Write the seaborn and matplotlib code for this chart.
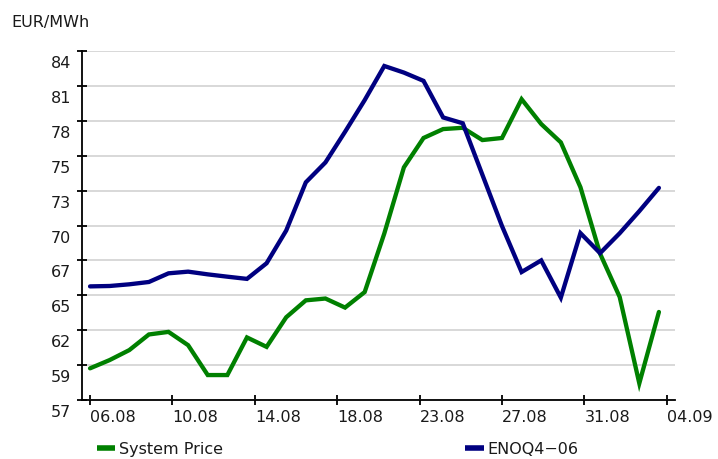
import numpy as np
import pandas as pd
import matplotlib
matplotlib.use("Agg")
import matplotlib.pyplot as plt
import matplotlib.transforms as mtransforms
import seaborn as sns

# ---- data ----
days = ["06.08", "07.08", "08.08", "09.08", "10.08", "11.08", "12.08", "13.08",
        "14.08", "15.08", "16.08", "17.08", "18.08", "19.08", "20.08", "21.08",
        "22.08", "23.08", "24.08", "25.08", "26.08", "27.08", "28.08", "29.08",
        "30.08", "31.08", "01.09", "02.09", "03.09", "04.09"]
system_price = [59.45, 60.09, 60.86, 62.07, 62.27, 61.24, 58.93, 58.93,
                61.84, 61.11, 63.40, 64.71, 64.85, 64.15, 65.35, 69.88,
                75.00, 77.27, 77.96, 78.06, 77.11, 77.27, 80.27, 78.35,
                76.93, 73.46, 68.32, 64.97, 58.29, 63.81]
enoq4_06 = [65.79, 65.82, 65.95, 66.13, 66.80, 66.93, 66.72, 66.54,
            66.37, 67.58, 70.11, 73.84, 75.38, 77.75, 80.20, 82.84,
            82.33, 81.69, 78.86, 78.41, 74.43, 70.46, 66.90, 67.80,
            64.92, 69.91, 68.36, 69.90, 71.61, 73.41]
series_names = ["System Price", "ENOQ4\u221206"]
series_colors = ["#008000", "#000080"]
xtick_labels = ["06.08", "10.08", "14.08", "18.08", "23.08", "27.08", "31.08", "04.09"]
y_min, y_max, y_step = 57.0, 84.0, 2.7
unit_label = "EUR/MWh"

# ---- build long-form table ----
x_idx = np.arange(len(days))
df = pd.concat([
    pd.DataFrame({"x": x_idx, "value": system_price, "series": series_names[0]}),
    pd.DataFrame({"x": x_idx, "value": enoq4_06, "series": series_names[1]}),
], ignore_index=True)

sns.set_theme(style="white")
plt.rcParams["font.family"] = ["DejaVu Sans"]
FS = 11.5

fig = plt.figure(figsize=(7.18, 4.59), dpi=100)
ax = fig.add_axes([82 / 718, 1 - 400 / 459, (675 - 82) / 718, (400 - 51) / 459])

sns.lineplot(data=df, x="x", y="value", hue="series", hue_order=series_names,
             palette=dict(zip(series_names, series_colors)), linewidth=3.1,
             ax=ax, legend=True)
for ln in ax.get_lines():
    ln.set_solid_joinstyle("miter")

# axes limits / ticks
ax.set_xlim(-0.41, 29.82)
ax.set_ylim(y_min, y_max)
yt = y_min + y_step * np.arange(11)
ax.set_yticks(yt)
ax.set_yticklabels([str(int(np.floor(v + 1e-9))) for v in yt])
xt = np.arange(len(xtick_labels)) * 4.2
ax.set_xticks(xt)
ax.set_xticklabels(xtick_labels, ha="left")

ax.set_xlabel("")
ax.set_ylabel("")
ax.yaxis.grid(True, color="#d6d6d6", linewidth=1.3)
ax.xaxis.grid(False)
ax.set_axisbelow(True)
for s in ["top", "right"]:
    ax.spines[s].set_visible(False)
for s in ["left", "bottom"]:
    ax.spines[s].set_color("black")
    ax.spines[s].set_linewidth(1.3)
ax.tick_params(axis="both", which="major", direction="inout", length=7,
               width=1.3, color="black", labelsize=FS, labelcolor="#1a1a1a",
               bottom=True, left=True)
ax.tick_params(axis="y", pad=4.5)
ax.tick_params(axis="x", pad=4)

# shift y labels down (as in the reference)
offset = mtransforms.ScaledTranslation(0, -11 / 100, fig.dpi_scale_trans)
for lab in ax.yaxis.get_majorticklabels():
    lab.set_transform(lab.get_transform() + offset)

fig.text(11 / 718, 1 - 22 / 459, unit_label, ha="left", va="center",
         fontsize=FS, color="#1a1a1a")

sns.move_legend(ax, loc="upper left", bbox_to_anchor=(97 / 718, 1 - 442 / 459),
                bbox_transform=fig.transFigure, ncol=2, frameon=False,
                title=None, fontsize=FS, handlelength=1.15, handletextpad=0.2,
                columnspacing=15.2, borderpad=0, borderaxespad=0)
leg = ax.get_legend()
for t in leg.get_texts():
    t.set_color("#1a1a1a")
for h in leg.legend_handles:
    h.set_linewidth(4)
    h.set_solid_capstyle("butt")

fig.savefig("out.png", dpi=100, facecolor="white")
